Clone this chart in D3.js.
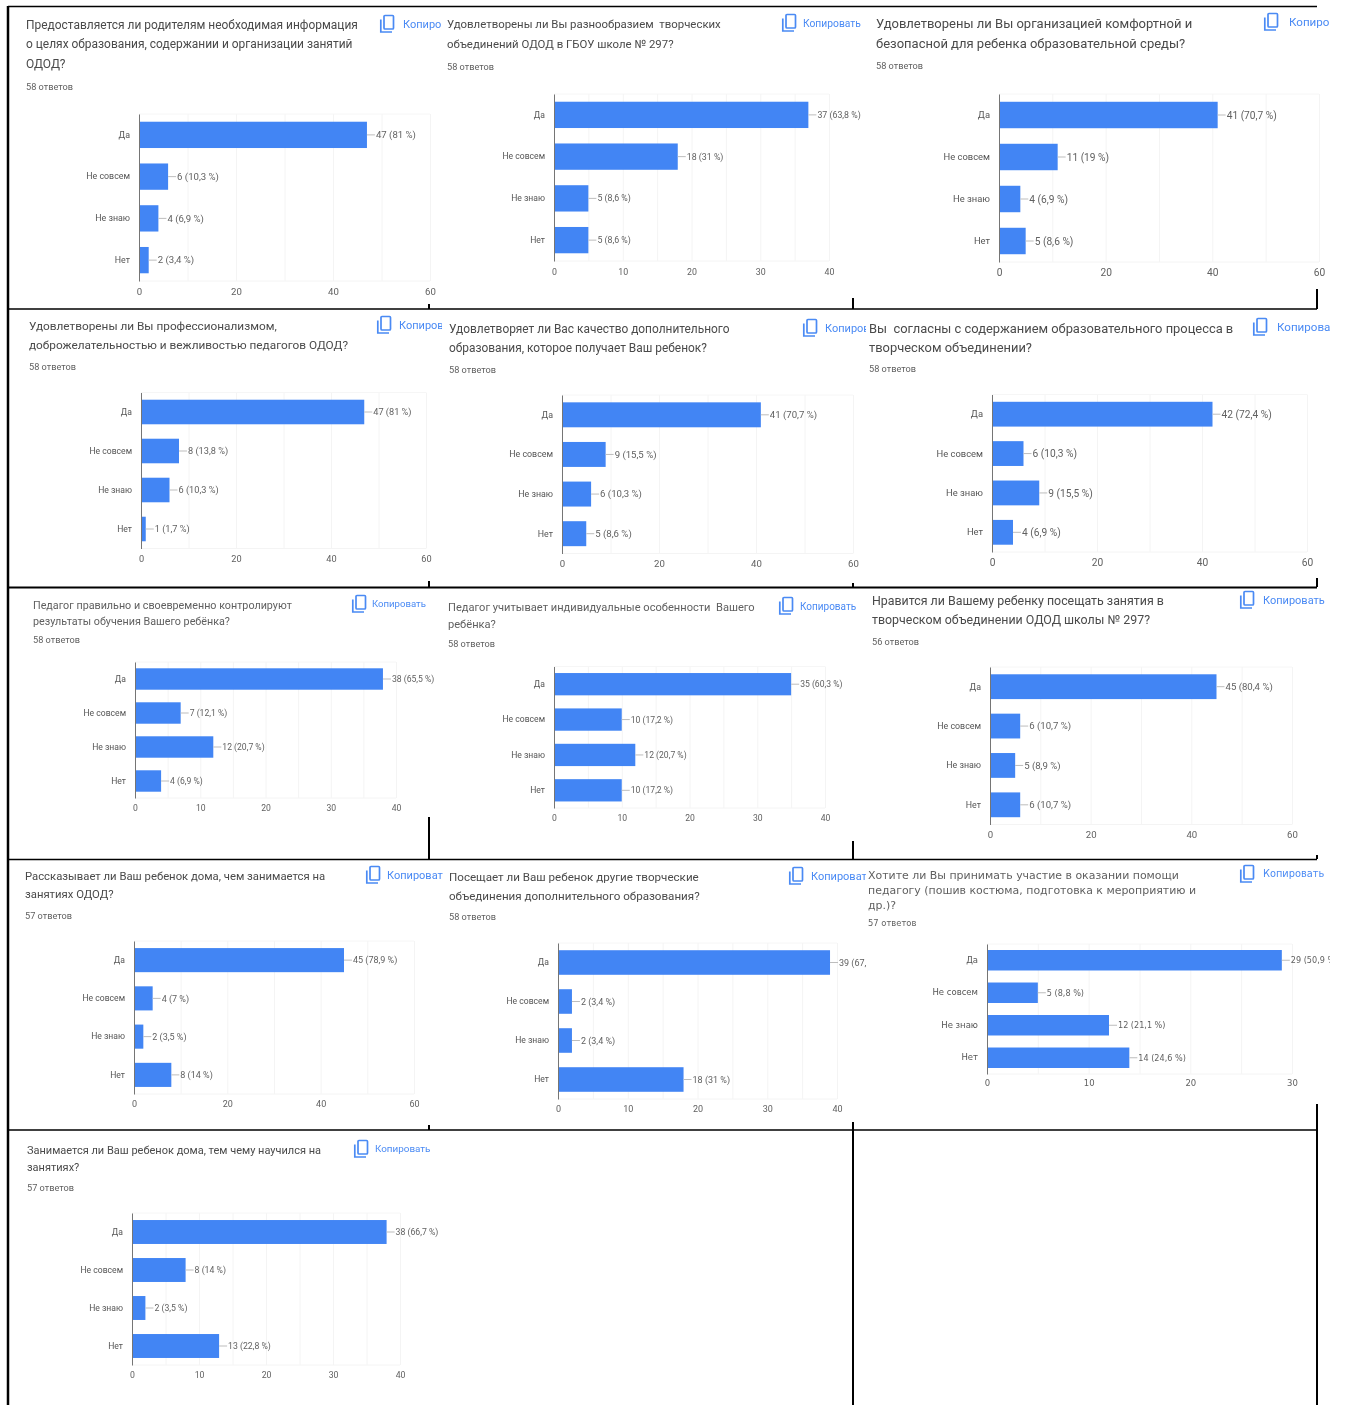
<!DOCTYPE html>
<html>
<head>
<meta charset="utf-8">
<script src="https://cdn.jsdelivr.net/npm/d3@7"></script>
<style>
  html, body { margin: 0; padding: 0; background: #fff; }
  svg { display: block; font-family: Roboto, sans-serif; }
</style>
</head>
<body>
<div id="chart"></div>
<script>
const categories = ["Да", "Не совсем", "Не знаю", "Нет"];

const questions = [
  ["Предоставляется ли родителям необходимая информация", "о целях образования, содержании и организации занятий", "ОДОД?"],
  ["Удовлетворены ли Вы разнообразием  творческих", "объединений ОДОД в ГБОУ школе № 297?"],
  ["Удовлетворены ли Вы организацией комфортной и", "безопасной для ребенка образовательной среды?"],
  ["Удовлетворены ли Вы профессионализмом,", "доброжелательностью и вежливостью педагогов ОДОД?"],
  ["Удовлетворяет ли Вас качество дополнительного", "образования, которое получает Ваш ребенок?"],
  ["Вы  согласны с содержанием образовательного процесса в", "творческом объединении?"],
  ["Педагог правильно и своевременно контролируют", "результаты обучения Вашего ребёнка?"],
  ["Педагог учитывает индивидуальные особенности  Вашего", "ребёнка?"],
  ["Нравится ли Вашему ребенку посещать занятия в", "творческом объединении ОДОД школы № 297?"],
  ["Рассказывает ли Ваш ребенок дома, чем занимается на", "занятиях ОДОД?"],
  ["Посещает ли Ваш ребенок другие творческие", "объединения дополнительного образования?"],
  ["Хотите ли Вы принимать участие в оказании помощи", "педагогу (пошив костюма, подготовка к мероприятию и", "др.)?"],
  ["Занимается ли Ваш ребенок дома, тем чему научился на", "занятиях?"]
];

const answerCounts = ["58 ответов", "58 ответов", "58 ответов", "58 ответов", "58 ответов", "58 ответов", "58 ответов",
  "58 ответов", "56 ответов", "57 ответов", "58 ответов", "57 ответов", "57 ответов"];

const counts = [
  [47, 6, 4, 2], [37, 18, 5, 5], [41, 11, 4, 5],
  [47, 8, 6, 1], [41, 9, 6, 5], [42, 6, 9, 4],
  [38, 7, 12, 4], [35, 10, 12, 10], [45, 6, 5, 6],
  [45, 4, 2, 8], [39, 2, 2, 18], [29, 5, 12, 14],
  [38, 8, 2, 13]
];

const percents = [
  ["81", "10,3", "6,9", "3,4"], ["63,8", "31", "8,6", "8,6"], ["70,7", "19", "6,9", "8,6"],
  ["81", "13,8", "10,3", "1,7"], ["70,7", "15,5", "10,3", "8,6"], ["72,4", "10,3", "15,5", "6,9"],
  ["65,5", "12,1", "20,7", "6,9"], ["60,3", "17,2", "20,7", "17,2"], ["80,4", "10,7", "8,9", "10,7"],
  ["78,9", "7", "3,5", "14"], ["67,2", "3,4", "3,4", "31"], ["50,9", "8,8", "21,1", "24,6"],
  ["66,7", "14", "3,5", "22,8"]
];

const axisMax = [60, 40, 60, 60, 60, 60, 40, 40, 60, 60, 40, 30, 40];

// where each screenshot sits on the page, fs/cf/lf = title, copy link, chart label sizes
const panels = [
  { tx: 26, ty: [25, 44, 64], ay: 87, fs: 11.95, cf: 11, lf: 9.6, x: [139, 430], y: [114, 281], ic: 380, cx: 403, right: 442 },
  { tx: 447, ty: [24, 44], ay: 67, fs: 11.4, cf: 10.3, lf: 8.8, tp: 8, x: [554, 829], y: [94, 261], ic: 782, cx: 803, right: 866 },
  { tx: 876, ty: [23, 43], ay: 66, fs: 13, cf: 11.6, lf: 10.2, x: [999, 1319], y: [94, 262], ic: 1264, cx: 1289, right: 1330 },
  { tx: 29, ty: [326, 345], ay: 367, fs: 11.8, cf: 11, lf: 9.2, x: [141, 426], y: [392.5, 548.5], ic: 377, cx: 399, right: 442 },
  { tx: 449, ty: [329, 348], ay: 370, fs: 11.9, cf: 11, lf: 9.6, x: [562, 853], y: [395, 553.5], ic: 803, cx: 825, right: 866 },
  { tx: 869, ty: [328, 347], ay: 369, fs: 12.9, cf: 11.6, lf: 10.2, x: [992, 1307], y: [394.5, 552], ic: 1253, cx: 1277, right: 1330 },
  { tx: 33, ty: [605, 621], ay: 640, fs: 10.75, cf: 9.6, lf: 8.6, x: [135, 396], y: [662, 798], ic: 352, cx: 372, right: 442, soft: true },
  { tx: 448, ty: [607, 624], ay: 644, fs: 11.1, cf: 10, lf: 8.6, x: [554, 825], y: [666.5, 808], ic: 779, cx: 800, right: 866, soft: true },
  { tx: 872, ty: [601, 620], ay: 642, fs: 12.4, cf: 11, lf: 9.6, x: [990, 1292], y: [667, 824.5], ic: 1240, cx: 1263, right: 1330 },
  { tx: 25, ty: [876, 894], ay: 916, fs: 11.3, cf: 11, lf: 9, x: [134, 414], y: [941, 1094], ic: 366, cx: 387, right: 443 },
  { tx: 449, ty: [877, 896], ay: 917, fs: 11.6, cf: 11, lf: 9, x: [558, 837], y: [943, 1099], ic: 789, cx: 811, right: 866 },
  { tx: 868, ty: [875, 890, 905], ay: 923, fs: 10.95, cf: 9.8, lf: 8.1, tp: 6, x: [987, 1292], y: [944, 1074], ic: 1240, cx: 1263, right: 1330, soft: true, wide: true },
  { tx: 27, ty: [1150, 1167], ay: 1188, fs: 11, cf: 9.9, lf: 8.7, x: [132, 400], y: [1213, 1365], ic: 354, cx: 375, right: 442 }
];

const frameLines = [
  [8, 6, 8, 1405, 2.5], [8, 6.5, 1317, 6.5, 1.5], [8, 309, 1317, 309, 1.5],
  [8, 587.5, 1317, 587.5, 2], [8, 859.5, 1317, 859.5, 1.5], [8, 1130, 1317, 1130, 1.5],
  [429, 304, 429, 309, 2], [429, 581, 429, 587, 2], [429, 817, 429, 859, 2], [429, 1125, 429, 1130, 2],
  [853, 298, 853, 309, 2], [853, 583, 853, 587, 2], [853, 841, 853, 859, 2], [853, 1122, 853, 1405, 2],
  [1317, 289, 1317, 309, 2], [1317, 578, 1317, 587, 2], [1317, 855, 1317, 859, 2], [1317, 1104, 1317, 1405, 2]
];

const width = 1347;
const height = 1405;

const svg = d3.select("#chart")
  .append("svg")
  .attr("width", width)
  .attr("height", height)
  .attr("viewBox", [0, 0, width, height]);

const drawPanel = (p, i) => {

  const outer = svg.append("g")
    .style("filter", p.soft ? "blur(0.55px)" : "blur(0.4px)");

  svg.append("clipPath")
    .attr("id", `clip${i}`)
    .append("rect")
    .attr("width", p.right)
    .attr("height", height);

  const g = outer.append("g")
    .attr("clip-path", `url(#clip${i})`)
    .style("font-family", p.wide ? "'DejaVu Sans', sans-serif" : null);

  g.selectAll("text.title")
    .data(questions[i])
    .join("text")
    .attr("class", "title")
    .attr("x", p.tx)
    .attr("y", (d, k) => p.ty[k])
    .attr("dy", "0.35em")
    .attr("font-size", p.fs)
    .attr("fill", p.soft ? "#5f5f5f" : "#4a4a4a")
    .style("white-space", "pre")
    .text(d => d);

  g.append("text")
    .attr("x", p.tx)
    .attr("y", p.ay)
    .attr("dy", "0.35em")
    .attr("font-size", p.wide ? 8.4 : 9.2)
    .attr("fill", "#616161")
    .text(answerCounts[i]);

  // copy icon + link
  const midY = p.ty[0] - 1;
  const icon = g.append("g")
    .attr("transform", `translate(${p.ic}, ${midY - 9})`)
    .attr("fill", "none")
    .attr("stroke", "#4a8af4")
    .attr("stroke-width", 1.7);
  icon.append("rect").attr("x", 4).attr("y", 0.5).attr("width", 9.5).attr("height", 13.5).attr("rx", 1);
  icon.append("path").attr("d", "M0.8,4.5V17H12");

  g.append("text")
    .attr("x", p.cx)
    .attr("y", midY)
    .attr("dy", "0.35em")
    .attr("font-size", p.cf)
    .attr("fill", "#4a8af4")
    .text("Копировать");

  const xScale = d3.scaleLinear()
    .domain([0, axisMax[i]])
    .range(p.x);

  const yScale = d3.scaleBand()
    .domain(categories)
    .range(p.y)
    .paddingInner(0.37)
    .paddingOuter(0.185);

  const plotHeight = p.y[1] - p.y[0];
  const catSize = p.wide ? p.lf * 1.05 : Math.max(p.lf * 0.92, 8.6);

  // minor and major grid
  const gridStep = axisMax[i] === 60 ? 10 : 5;
  const grid = g.append("g")
    .attr("transform", `translate(0, ${p.y[1]})`)
    .call(d3.axisBottom(xScale)
      .tickValues(d3.range(0, axisMax[i] + 1, gridStep))
      .tickSize(-plotHeight)
      .tickFormat(""));
  grid.select(".domain").remove();
  grid.selectAll("line").attr("stroke", "#f4f4f4");

  g.append("line")
    .attr("x1", p.x[0]).attr("x2", p.x[1])
    .attr("y1", p.y[0]).attr("y2", p.y[0])
    .attr("stroke", "#f6f6f6");
  g.append("line")
    .attr("x1", p.x[0]).attr("x2", p.x[1])
    .attr("y1", p.y[1]).attr("y2", p.y[1])
    .attr("stroke", "#f4f4f4");

  const rows = categories.map((c, k) => ({ c, v: counts[i][k], pct: percents[i][k] }));

  g.selectAll("rect.bar")
    .data(rows)
    .join("rect")
    .attr("class", "bar")
    .attr("x", xScale(0))
    .attr("y", d => yScale(d.c))
    .attr("width", d => xScale(d.v) - xScale(0))
    .attr("height", yScale.bandwidth())
    .attr("fill", "#4285f4");

  g.selectAll("line.leader")
    .data(rows)
    .join("line")
    .attr("class", "leader")
    .attr("x1", d => xScale(d.v))
    .attr("x2", d => xScale(d.v) + 8)
    .attr("y1", d => yScale(d.c) + yScale.bandwidth() / 2)
    .attr("y2", d => yScale(d.c) + yScale.bandwidth() / 2)
    .attr("stroke", "#bdbdbd");

  g.selectAll("text.value")
    .data(rows)
    .join("text")
    .attr("class", "value")
    .attr("x", d => xScale(d.v) + 9)
    .attr("y", d => yScale(d.c) + yScale.bandwidth() / 2)
    .attr("dy", "0.35em")
    .attr("font-size", p.lf)
    .attr("fill", "#616161")
    .text(d => `${d.v} (${d.pct} %)`);

  const yAxis = g.append("g")
    .call(d3.axisLeft(yScale).tickSize(0).tickPadding(9))
    .attr("transform", `translate(${p.x[0]}, 0)`)
    .attr("font-family", null);
  yAxis.select(".domain").attr("stroke", "#757575");
  yAxis.selectAll("text")
    .attr("font-size", catSize)
    .attr("fill", "#555");

  const xAxis = g.append("g")
    .call(d3.axisBottom(xScale)
      .tickValues(d3.range(0, axisMax[i] + 1, axisMax[i] === 60 ? 20 : 10))
      .tickSize(0)
      .tickPadding(p.tp || 7))
    .attr("transform", `translate(0, ${p.y[1]})`)
    .attr("font-family", null);
  xAxis.select(".domain").remove();
  xAxis.selectAll("text")
    .attr("font-size", p.wide ? p.lf * 1.05 : p.lf)
    .attr("fill", "#616161");
};

panels.forEach(drawPanel);

svg.append("g")
  .attr("stroke", "#000")
  .selectAll("line")
  .data(frameLines)
  .join("line")
  .attr("x1", d => d[0])
  .attr("y1", d => d[1])
  .attr("x2", d => d[2])
  .attr("y2", d => d[3])
  .attr("stroke-width", d => d[4]);
</script>
</body>
</html>
